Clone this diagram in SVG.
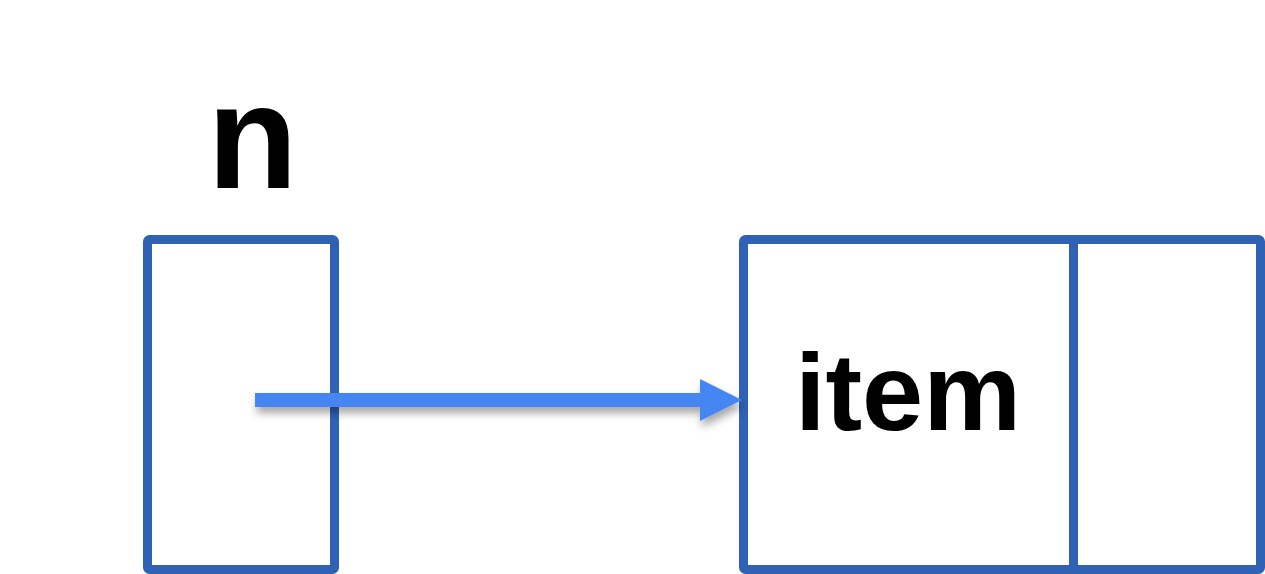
<svg xmlns="http://www.w3.org/2000/svg" width="1265" height="574" viewBox="0 0 1265 574">
  <style>
    .box { fill: #ffffff; stroke: #2f62b5; stroke-width: 9; stroke-linejoin: round; }
    .div { stroke: #2f62b5; stroke-width: 9; }
    .lbl { font-family: "Liberation Sans", Arial, sans-serif; font-weight: bold; fill: #000000; }
    .arrow { stroke: #4486f3; stroke-width: 14; fill: none; }
  </style>
  <defs>
    <filter id="shadow" x="-10%" y="-50%" width="120%" height="250%">
      <feDropShadow dx="2" dy="6" stdDeviation="4" flood-color="#000000" flood-opacity="0.35"/>
    </filter>
  </defs>
  <rect width="1265" height="574" fill="#ffffff"/>
  <g id="node-n">
    <text class="lbl" x="252.5" y="188" font-size="148" text-anchor="middle">n</text>
    <rect class="box" x="147.5" y="239.5" width="187" height="330" rx="2"/>
  </g>
  <g id="node-item">
    <rect class="box" x="743.5" y="239.5" width="517" height="330" rx="2"/>
    <line class="div" x1="1073.5" y1="239.5" x2="1073.5" y2="569.5"/>
    <text class="lbl" x="908" y="430" font-size="110" text-anchor="middle">item</text>
  </g>
  <g id="connectors" filter="url(#shadow)">
    <line class="arrow" x1="255" y1="400" x2="702" y2="400"/>
    <polygon points="700,379 742,400 700,421" fill="#4486f3"/>
  </g>
</svg>
